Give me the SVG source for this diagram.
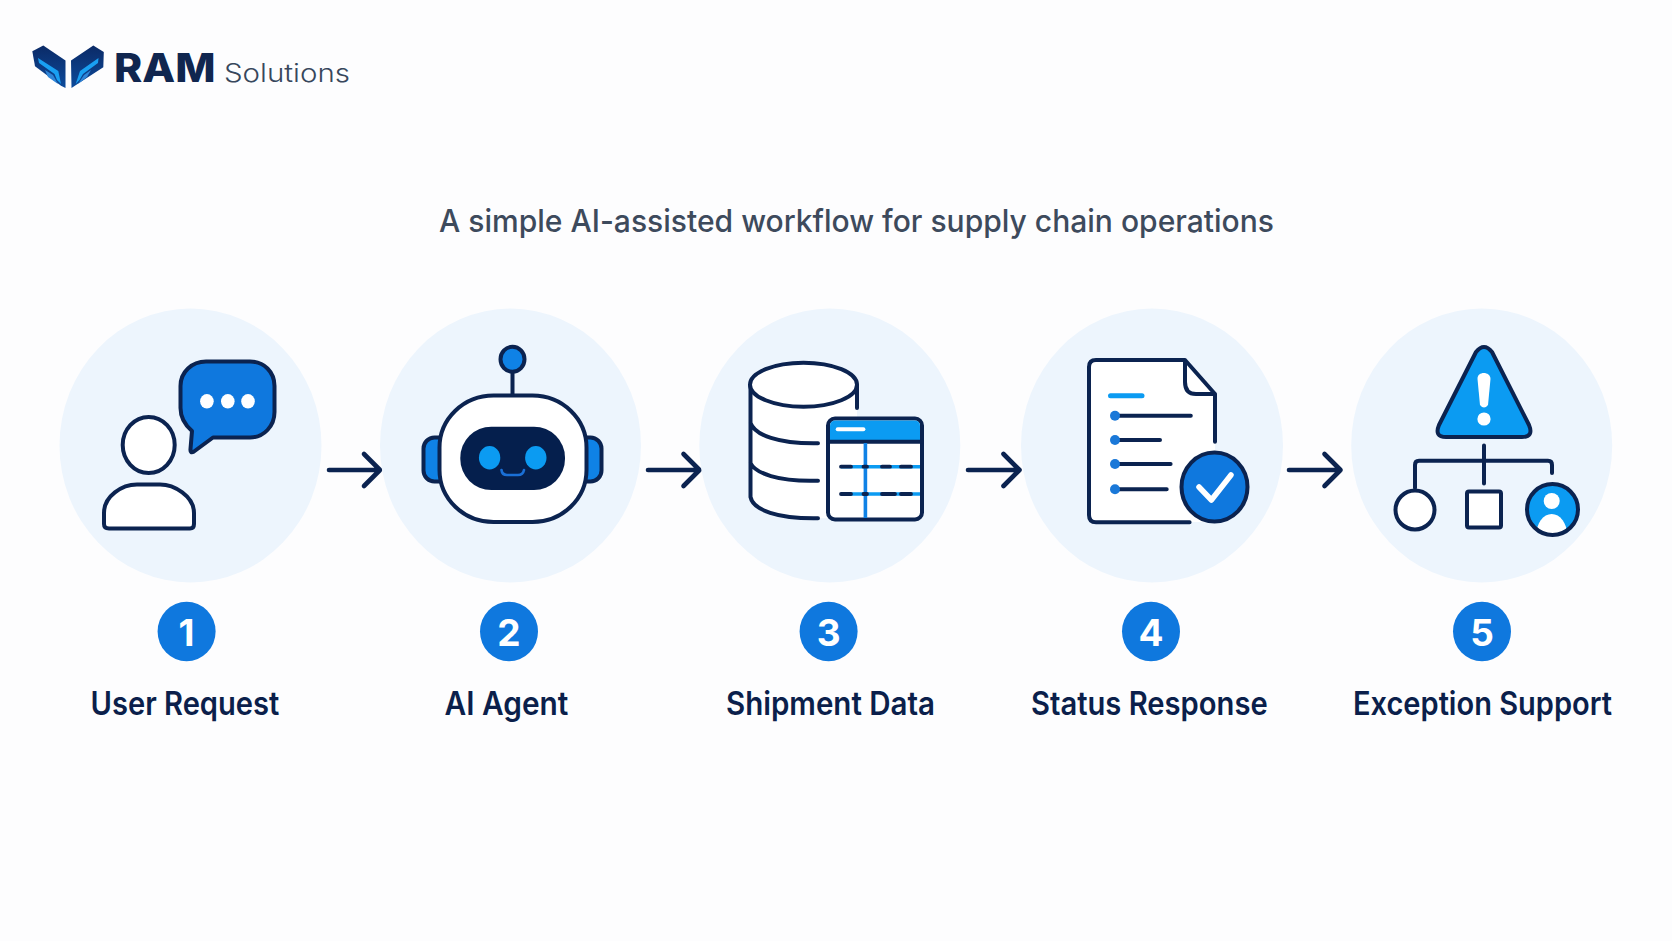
<svg xmlns="http://www.w3.org/2000/svg" width="1672" height="941" viewBox="0 0 1672 941">
<style>
.bg{fill:#edf5fd}
.ln{fill:none;stroke:#0b2350;stroke-width:4;stroke-linecap:round;stroke-linejoin:round}
.wf{fill:#fff;stroke:#0b2350;stroke-width:4;stroke-linejoin:round}
.lb{font:600 32px Inter,"Liberation Sans",sans-serif;fill:#0b1f4b}
.nm{font:700 37px Inter,"Liberation Sans",sans-serif;fill:#fff;text-anchor:middle}
.bd{fill:#0f78de}
.ar{fill:none;stroke:#0b2350;stroke-width:4.600;stroke-linecap:round;stroke-linejoin:round}
.sky{fill:#0b9bf2}
</style>
<defs>
<linearGradient id="lg" x1="0" y1="0" x2="0" y2="1"><stop offset="0" stop-color="#0b2a66"/><stop offset="1" stop-color="#0d4b9c"/></linearGradient>
<clipPath id="av"><circle cx="1552.500" cy="509.500" r="24"/></clipPath>
</defs>
<rect width="1672" height="941" fill="#fdfdfe"/>
<g id="logo">
<path d="M32.300 51.300 43.300 45.500 65.500 60.500 65.500 88 61 85.700 35 66.300Z" fill="url(#lg)"/>
<path d="M71 60.500 93.300 45.500 103.800 52 103.300 67.300 76 85 71.500 88Z" fill="url(#lg)"/>
<path d="M38 58 58.300 71 61 84 57 80 54.500 74 39 63Z" fill="#19a0f2"/>
<path d="M98.500 58 80 71 75.700 84 79.500 80 83 74 98 63Z" fill="#19a0f2"/>
<path d="M45 70 53 75 58 84 48 77Z" fill="#2f86d8"/>
<path d="M91 70 84 75 78 84 87 77Z" fill="#2f86d8"/>
<text x="114" y="81.700" font-family="Inter,'Liberation Sans',sans-serif" font-weight="800" font-size="39" fill="#10264f" textLength="101.500" lengthAdjust="spacingAndGlyphs">RAM</text>
<text x="224" y="81.700" font-family="Inter,'Liberation Sans',sans-serif" font-weight="300" font-size="25.500" fill="#37475c" textLength="126" lengthAdjust="spacingAndGlyphs">Solutions</text>
</g>
<text id="title" x="439" y="231.500" font-family="Inter,'Liberation Sans',sans-serif" font-weight="500" font-size="31" fill="#3d4a5c" textLength="835" lengthAdjust="spacingAndGlyphs">A simple AI-assisted workflow for supply chain operations</text>
<g id="connectors">
<path class="ar" d="M329 470H380M364 454 380 470 364 486"/>
<path class="ar" d="M648 470H699.500M683.500 454 699.500 470 683.500 486"/>
<path class="ar" d="M968 470H1019.500M1003.500 454 1019.500 470 1003.500 486"/>
<path class="ar" d="M1289 470H1340.500M1324.500 454 1340.500 470 1324.500 486"/>
</g>
<g id="node1">
<ellipse class="bg" cx="190.500" cy="445.500" rx="131" ry="137"/>
<ellipse class="wf" cx="148.700" cy="445" rx="26" ry="28"/>
<path class="wf" d="M109 528.500H190Q194 528.500 194 524V513C194 496 174 484.500 160 484.500H137C122 484.500 104 496 104 513V524Q104 528.500 109 528.500Z"/>
<path d="M206 361.500H250C264 361.500 274.500 372 274.500 386V412C274.500 426 264 437.500 250 437.500H213L194 451.500Q190 454 190.500 449L192 431C185 425 180.500 418 180.500 408V386C180.500 372 192 361.500 206 361.500Z" fill="#0f78de" stroke="#0b2350" stroke-width="4" stroke-linejoin="round"/>
<ellipse cx="206.900" cy="401.300" rx="6.800" ry="7.300" fill="#fff"/><ellipse cx="227.800" cy="401.300" rx="6.800" ry="7.300" fill="#fff"/><ellipse cx="248" cy="401.300" rx="6.800" ry="7.300" fill="#fff"/>
<ellipse class="bd" cx="186.600" cy="631.500" rx="29" ry="29.800"/>
<text class="nm" x="186.600" y="645.500">1</text>
<text class="lb" x="90.600" y="715" textLength="188.700" lengthAdjust="spacingAndGlyphs">User Request</text>
</g>
<g id="node2">
<ellipse class="bg" cx="510.500" cy="445.500" rx="130.500" ry="137"/>
<rect x="423.500" y="437.500" width="30" height="44" rx="11" fill="#0f82e6" stroke="#0b2350" stroke-width="4"/>
<rect x="571.500" y="437.500" width="30" height="44" rx="11" fill="#0f82e6" stroke="#0b2350" stroke-width="4"/>
<path class="ln" d="M512.500 372V395"/>
<ellipse cx="512.500" cy="359.300" rx="12" ry="12.500" fill="#0f82e6" stroke="#0b2350" stroke-width="4"/>
<rect class="wf" x="439.500" y="395.500" width="147" height="126.500" rx="54" ry="52"/>
<rect x="460.300" y="426.700" width="104.700" height="63.300" rx="31" fill="#051f4d"/>
<ellipse cx="489.600" cy="457.700" rx="10.700" ry="11.700" fill="#0b9bf2"/><ellipse cx="535.800" cy="457.700" rx="10.700" ry="11.700" fill="#0b9bf2"/>
<path d="M501.500 470Q502 475 507 475H518Q523 475 524 470" fill="none" stroke="#1a6fd6" stroke-width="2.600" stroke-linecap="round"/>
<ellipse class="bd" cx="509" cy="631.500" rx="29" ry="29.800"/>
<text class="nm" x="509" y="645.500">2</text>
<text class="lb" x="444.600" y="715" textLength="123.700" lengthAdjust="spacingAndGlyphs">AI Agent</text>
</g>
<g id="node3">
<ellipse class="bg" cx="829.800" cy="445.500" rx="130.500" ry="137"/>
<path fill="#fff" d="M751 385V497C753 510 778 519 818 518.300H857V385Z"/>
<path class="ln" d="M750.500 385V497C753 510 778 519 818 518.300M750.500 423C755 435 778 444 818 443.300M750.500 463C755 473 778 482 818 480.700M857 385V408"/>
<ellipse class="wf" cx="803.500" cy="384.700" rx="53.500" ry="22"/>
<rect class="wf" x="828" y="418.500" width="94" height="101" rx="7"/>
<path class="sky" d="M830 441V426Q830 420.500 835.500 420.500H914.500Q920 420.500 920 426V441Z"/>
<path class="ln" d="M828 441.700H922"/>
<path d="M837.700 429.300H863.400" stroke="#fff" stroke-width="4" stroke-linecap="round"/>
<path d="M865.400 443V518" stroke="#0f82e6" stroke-width="3.600"/>
<path d="M841 466.700H920M841 494H920" stroke="#0b9bf2" stroke-width="3.400"/>
<path d="M841 466.700H851M882 466.700H890M901 466.700H911M841 494H851M882 494H895M901 494H911M863.500 466.700H867M863.500 494H867" stroke="#0b2350" stroke-width="3.800" stroke-linecap="round"/>
<ellipse class="bd" cx="828.600" cy="631.500" rx="29" ry="29.800"/>
<text class="nm" x="828.600" y="645.500">3</text>
<text class="lb" x="726" y="715" textLength="209" lengthAdjust="spacingAndGlyphs">Shipment Data</text>
</g>
<g id="node4">
<ellipse class="bg" cx="1152" cy="445.500" rx="131" ry="137"/>
<path d="M1096 360H1185L1215 394V522H1096Q1089 522 1089 515V367Q1089 360 1096 360Z" fill="#fff"/>
<path class="ln" d="M1215 441.700V394L1185 360H1096Q1089 360 1089 367V515Q1089 522.300 1096 522.300H1189.600M1185 360V382Q1185 394 1196 394H1215"/>
<path d="M1110.500 395.700H1142" stroke="#0b9bf2" stroke-width="5" stroke-linecap="round"/>
<path class="ln" d="M1115 415.700H1190.800M1115 440H1160M1115 464H1170.600M1115 489.300H1166.700"/>
<circle cx="1115" cy="415.700" r="5" fill="#1a78d8"/><circle cx="1115" cy="440" r="5" fill="#1a78d8"/><circle cx="1115" cy="464" r="5" fill="#1a78d8"/><circle cx="1115" cy="489.300" r="5" fill="#1a78d8"/>
<ellipse cx="1214.500" cy="487" rx="33" ry="34.500" fill="#0f78de" stroke="#0b2350" stroke-width="4"/>
<path d="M1199 487 1211.400 500 1231 475" fill="none" stroke="#fff" stroke-width="5.500" stroke-linecap="round" stroke-linejoin="round"/>
<ellipse class="bd" cx="1151" cy="631.500" rx="29" ry="29.800"/>
<text class="nm" x="1151" y="645.500">4</text>
<text class="lb" x="1031" y="715" textLength="236.700" lengthAdjust="spacingAndGlyphs">Status Response</text>
</g>
<g id="node5">
<ellipse class="bg" cx="1481.700" cy="445.500" rx="130.500" ry="137"/>
<path d="M1476 352Q1484 342 1492 352L1529 425Q1534 437 1522 437H1446Q1434 437 1439 425Z" fill="#0b9bf2" stroke="#0b2350" stroke-width="4" stroke-linejoin="round"/>
<path d="M1477.500 379C1477 371 1490.500 371 1490.500 379L1488 405Q1484 410 1480 405Z" fill="#fff"/>
<circle cx="1484" cy="419" r="6.600" fill="#fff"/>
<path class="ln" d="M1484 445.500V483.500M1415 488V465Q1415 460.700 1419 460.700H1548Q1552 460.700 1552 465V473"/>
<circle class="wf" cx="1415" cy="510" r="19.500"/>
<rect class="wf" x="1467" y="491.500" width="34" height="36" rx="2"/>
<circle class="sky" cx="1552.500" cy="509.500" r="25"/>
<g clip-path="url(#av)" fill="#fff"><circle cx="1551.700" cy="501" r="8"/><ellipse cx="1551.700" cy="535" rx="15.500" ry="21"/></g>
<circle cx="1552.500" cy="509.500" r="25.500" fill="none" stroke="#0b2350" stroke-width="4"/>
<ellipse class="bd" cx="1482" cy="631.500" rx="29" ry="29.800"/>
<text class="nm" x="1482" y="645.500">5</text>
<text class="lb" x="1353" y="715" textLength="259" lengthAdjust="spacingAndGlyphs">Exception Support</text>
</g>
</svg>
